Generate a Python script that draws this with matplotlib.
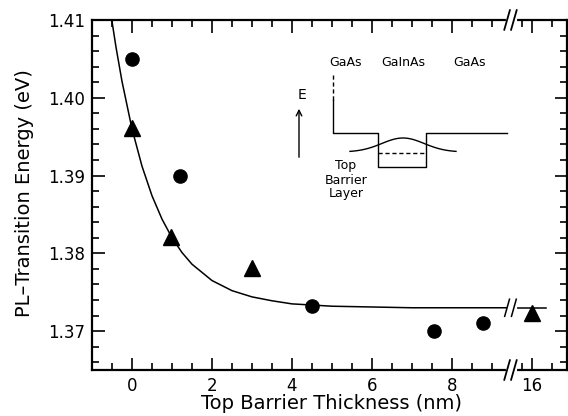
import numpy as np
import matplotlib.pyplot as plt

# measured points (x in nm, E in eV)
circ_x = [0.0, 1.2, 4.5, 7.56, 8.78]
circ_e = [1.405, 1.390, 1.3732, 1.3700, 1.3711]
tri_x = [0.0, 0.98, 3.0, 16.0]
tri_e = [1.3961, 1.3821, 1.3781, 1.3723]

# fit curve
fit_x = [-0.53, -0.4, -0.25, 0.0, 0.25, 0.5, 0.75, 1.0, 1.25, 1.5, 2.0,
         2.5, 3.0, 3.5, 4.0, 5.0, 6.0, 7.0, 8.0, 9.42]
fit_e = [1.4108, 1.4065, 1.4021, 1.3960, 1.3912, 1.3874, 1.3844, 1.3820,
         1.3801, 1.3786, 1.3765, 1.3752, 1.3744, 1.3739, 1.3735, 1.3732,
         1.3731, 1.3730, 1.3730, 1.3730]
fit2_x = [15.58, 16.35]
fit2_e = [1.3730, 1.3730]

x_labels = ['0', '2', '4', '6', '8', '16']
x_major = [0, 2, 4, 6, 8, 16]

BRK = 9.5
SHIFT = 6.0


def xp(v):
    # squeeze the axis: everything past the break is moved left
    v = np.asarray(v, dtype=float)
    return np.where(v > BRK, v - SHIFT, v)


plt.rcParams['font.family'] = 'DejaVu Sans'
fig = plt.figure(figsize=(5.68, 4.16), dpi=100)
ax = fig.add_axes([0.162, 0.1106, 0.836, 0.8414])

ax.plot(xp(fit_x), fit_e, color='k', lw=1.1)
ax.plot(xp(fit2_x), fit2_e, color='k', lw=1.1)
ax.plot(xp(circ_x), circ_e, 'o', color='k', ms=9.5, ls='none')
ax.plot(xp(tri_x), tri_e, '^', color='k', ms=11, ls='none')

ax.set_xlim(-1, 10.875)
ax.set_ylim(1.365, 1.41)

ax.set_xticks(xp(x_major))
ax.set_xticklabels(x_labels)
minors = [v for v in np.arange(-0.5, 9.01, 0.5) if v % 2 != 0] + [9.75, 10.5]
ax.set_xticks(minors, minor=True)
ax.set_yticks([1.37, 1.38, 1.39, 1.40, 1.41])
ax.set_yticklabels(['1.37', '1.38', '1.39', '1.40', '1.41'])
ax.set_yticks(np.arange(1.366, 1.4095, 0.002), minor=True)

ax.tick_params(which='both', direction='in', top=True, right=True,
               width=1.2, labelsize=12, pad=5)
ax.tick_params(which='major', length=9)
ax.tick_params(which='minor', length=5)
for s in ax.spines.values():
    s.set_linewidth(1.6)

ax.set_xlabel('Top Barrier Thickness (nm)', fontsize=14, va='baseline')
ax.xaxis.set_label_coords(0.505, -0.112)
ax.set_ylabel('PL\u2013Transition Energy (eV)', fontsize=14, va='center')
ax.yaxis.set_label_coords(-0.142, 0.505)

# break marks
tx = ax.get_xaxis_transform()
for yb in (0.0, 1.0):
    ax.plot([9.41, 9.59], [yb, yb], color='white', lw=3, transform=tx,
            clip_on=False, zorder=5)
    for c in (9.38, 9.55):
        ax.plot([c - 0.07, c + 0.07], [yb - 0.028, yb + 0.028], color='k',
                lw=1.3, transform=tx, clip_on=False, zorder=6)
ax.plot([9.42, 9.58], [1.373, 1.373], color='white', lw=3, zorder=5)
for c in (9.38, 9.55):
    ax.plot([c - 0.06, c + 0.06], [1.373 - 0.0011, 1.373 + 0.0011],
            color='k', lw=1.1, zorder=6)

# band diagram inset (pixel-like coordinates)
ins = fig.add_axes([290 / 568, 1 - 210 / 416, 220 / 568, 155 / 416])
ins.set_xlim(290, 510)
ins.set_ylim(210, 55)
ins.axis('off')
ins.patch.set_alpha(0)
kw = dict(color='k', lw=1.0)
ins.plot([333, 333], [75, 100], ls=(0, (3, 2)), **kw)
ins.plot([333, 333, 378, 378, 426, 426, 507],
         [100, 133, 133, 167, 167, 133, 133], **kw)
ins.plot([378, 426], [152.5, 152.5], ls=(0, (3, 2)), **kw)
wx = np.linspace(350, 456, 80)
ins.plot(wx, 152 - 14 * np.exp(-((wx - 403) / 30) ** 2), **kw)
ins.annotate('', xy=(299, 106), xytext=(299, 160),
             arrowprops=dict(arrowstyle='->', lw=1.0, color='k'))
ins.text(298, 95, 'E', fontsize=10, va='center', ha='left')
ins.text(346, 63, 'GaAs', fontsize=9, ha='center', va='center')
ins.text(403, 63, 'GaInAs', fontsize=9, ha='center', va='center')
ins.text(470, 63, 'GaAs', fontsize=9, ha='center', va='center')
ins.text(346, 180, 'Top\nBarrier\nLayer', fontsize=9, ha='center',
         va='center', linespacing=1.1)

fig.savefig('out.png', dpi=100)
